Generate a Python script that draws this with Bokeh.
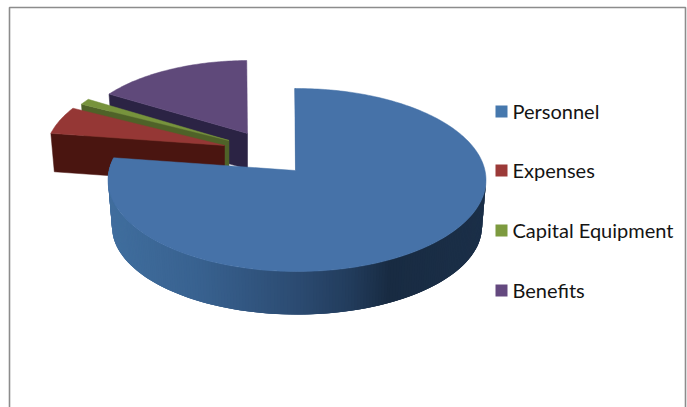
import math

from bokeh.core.properties import value
from bokeh.embed import file_html
from bokeh.models import ColumnDataSource, Range1d
from bokeh.plotting import figure
from bokeh.resources import INLINE

categories = ["Personnel", "Expenses", "Capital Equipment", "Benefits"]
shares = [79.1, 5.0, 1.1, 14.8]

WIDTH, HEIGHT = 687, 407

TOP_COLORS = ["#4672a8", "#953735", "#77933c", "#5f497a"]
SIDE_COLORS = ["#2b4a70", "#4a1510", "#4f6228", "#2b2344"]
LEGEND_COLORS = ["#4678ad", "#9b3a38", "#7d9a3f", "#64497f"]

# Disc geometry in screen pixels: the hub sits above the ellipse's centre
# because of the perspective tilt.
HUB_OFFSET = (1.5, 9.5)
RADII = (189.0, 91.5)
ROTATION = -0.7
MAIN_HUB = (295.0, 170.0)
MAIN_FLOOR = ((296.5, 226.0), (185.0, 88.0))

# Pulled-out slices: hub position and perspective scale (horizontal, vertical).
EXPLODED = {
    1: ((224.0, 145.0), (0.955, 0.955)),
    2: ((228.5, 140.0), (0.93, 0.93)),
    3: ((247.0, 133.0), (0.915, 0.89)),
}

# Shade of the curved wall, from left to right across the pie.
WALL_STOPS = [
    (108, (64, 110, 158)),
    (200, (56, 97, 143)),
    (300, (43, 74, 112)),
    (350, (34, 60, 92)),
    (390, (24, 43, 66)),
    (485, (27, 47, 72)),
]


def wall_color(x):
    for (x0, c0), (x1, c1) in zip(WALL_STOPS, WALL_STOPS[1:]):
        if x <= x1:
            t = max(0.0, (x - x0) / (x1 - x0))
            return "#%02x%02x%02x" % tuple(round(a + (b - a) * t) for a, b in zip(c0, c1))
    return "#1b2f48"


def slice_angles(values):
    total = sum(values)
    spans, start = [], ROTATION
    for v in values:
        end = start + 360.0 * v / total
        spans.append((start, end))
        start = end
    return spans


def rim(hub, scale, angle):
    a = math.radians(angle)
    return (
        hub[0] + scale[0] * (HUB_OFFSET[0] + RADII[0] * math.sin(a)),
        hub[1] + scale[1] * (HUB_OFFSET[1] - RADII[1] * math.cos(a)),
    )


def floor_rim(angle):
    (cx, cy), (rx, ry) = MAIN_FLOOR
    a = math.radians(angle)
    return cx + rx * math.sin(a), cy - ry * math.cos(a)


def arc(hub, scale, a0, a1, step=1.0):
    n = max(2, int(abs(a1 - a0) / step) + 1)
    return [rim(hub, scale, a0 + (a1 - a0) * i / (n - 1)) for i in range(n)]


p = figure(
    width=WIDTH,
    height=HEIGHT,
    x_range=Range1d(0, WIDTH),
    y_range=Range1d(HEIGHT, 0),
    output_backend="svg",
    toolbar_location=None,
    min_border=0,
    outline_line_color=None,
    background_fill_color="white",
    border_fill_color="white",
)
p.axis.visible = False
p.grid.visible = False

# Chart frame: the lower edge runs off the page.
p.line([9, 9, 685, 685], [HEIGHT, 7, 7, HEIGHT], line_color="#8c8c8c", line_width=1.6)

spans = slice_angles(shares)

# Exploded slices, drawn back to front: radial face first, then the top.
for idx in (3, 2, 1):
    hub, scale = EXPLODED[idx]
    a0, a1 = spans[idx]
    corner = rim(hub, scale, a0)
    depth = 40.0 * scale[1]
    drop = (hub[0] + 0.98 * (corner[0] - hub[0]), hub[1] + depth + 0.98 * (corner[1] - hub[1]))
    p.patch(
        [corner[0], hub[0], hub[0], drop[0]],
        [corner[1], hub[1], hub[1] + depth, drop[1]],
        fill_color=SIDE_COLORS[idx],
        line_color=SIDE_COLORS[idx],
        line_width=0.5,
    )
    outline = [hub] + arc(hub, scale, a0, a1)
    p.patch(
        [q[0] for q in outline],
        [q[1] for q in outline],
        fill_color=TOP_COLORS[idx],
        line_color=TOP_COLORS[idx],
        line_width=0.5,
    )

# Curved wall of the large slice: overlapping facets painted from the left,
# each reaching under its neighbour so no seams show between them.
a0, a1 = spans[0]
MAIN_SCALE = (1.0, 1.0)
xs, ys, fills = [], [], []
angle = a1
while angle > 90:
    nxt = max(90, angle - 1.0)
    far = max(90, angle - 3.0)
    t0, t1 = rim(MAIN_HUB, MAIN_SCALE, angle), rim(MAIN_HUB, MAIN_SCALE, far)
    b0, b1 = floor_rim(angle), floor_rim(far)
    xs.append([t0[0], t1[0], b1[0], b0[0]])
    ys.append([t0[1], t1[1], b1[1], b0[1]])
    fills.append(wall_color(rim(MAIN_HUB, MAIN_SCALE, (angle + nxt) / 2)[0]))
    angle = nxt
p.patches(
    "xs", "ys",
    source=ColumnDataSource(dict(xs=xs, ys=ys, fill=fills)),
    fill_color="fill",
    line_color=None,
)

# Thin sliver of the inner face along the slice's straight right edge.
edge = rim(MAIN_HUB, MAIN_SCALE, a0)
p.line([edge[0] + 0.6, MAIN_HUB[0] + 0.6], [edge[1], MAIN_HUB[1]], line_color=SIDE_COLORS[0], line_width=1)

outline = [MAIN_HUB] + arc(MAIN_HUB, MAIN_SCALE, a0, a1)
p.patch(
    [q[0] for q in outline],
    [q[1] for q in outline],
    fill_color=TOP_COLORS[0],
    line_color=TOP_COLORS[0],
    line_width=0.5,
)

# Legend.
legend_y = [111, 170, 230, 290]
p.rect(
    [501] * 4, legend_y, width=12, height=12,
    fill_color=LEGEND_COLORS, line_color=None,
)
p.text(
    [512] * 4, [y - 1 for y in legend_y], text=categories,
    text_font=value("Lato"), text_font_size="20px",
    text_baseline="middle", text_align="left", text_color="#141414",
)

open("out.html", "w").write(file_html(p, INLINE))
